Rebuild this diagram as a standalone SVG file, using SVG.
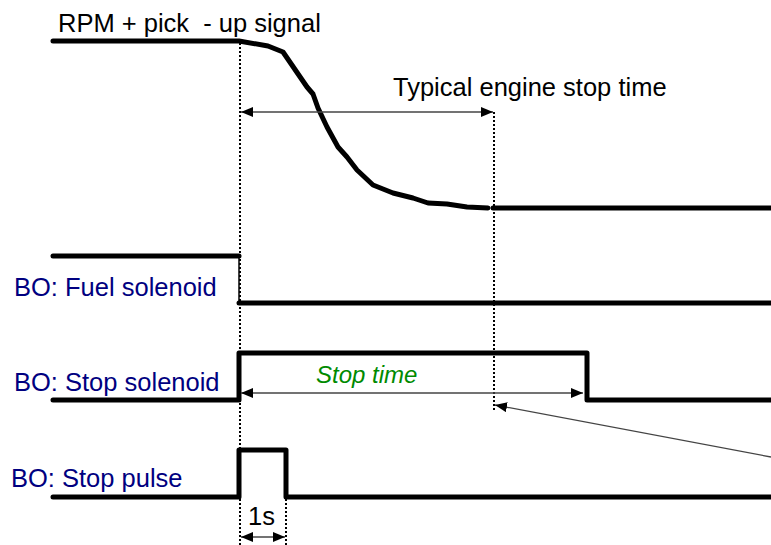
<svg xmlns="http://www.w3.org/2000/svg" width="771" height="545" viewBox="0 0 771 545">
<style>
.sig{fill:none;stroke:#000;stroke-width:5;stroke-linecap:round;stroke-linejoin:round}
.thin{fill:none;stroke:#000;stroke-width:1.5}
.dot{fill:none;stroke:#000;stroke-width:2;stroke-dasharray:2 2}
.arr{fill:none;stroke:#444;stroke-width:1.3}
.lbl{font-family:"Liberation Sans",Arial,sans-serif;font-size:25.5px;fill:#000080}
.blk{font-family:"Liberation Sans",Arial,sans-serif;font-size:25.5px;fill:#000}
.grn{font-family:"Liberation Sans",Arial,sans-serif;font-size:24px;font-style:italic;fill:#008a00}
</style>
<defs>
<marker id="ah" viewBox="0 0 12 10" refX="12" refY="5" markerWidth="12" markerHeight="10" markerUnits="userSpaceOnUse" orient="auto-start-reverse">
<path d="M0,0 L12,5 L0,10 z" fill="#000"/>
</marker>
</defs>
<rect width="771" height="545" fill="#fff"/>
<g id="rpm">
<path class="sig" d="M53,41 L239,41 L268,46 L283,52 L307,87 L313,94 L318,108 L327,127 L338,147 L347,157 L357,170 L373,185 L393,193 L413,198 L428,203 L447,204 L467,207 L488,208"/>
<path class="sig" d="M493,208 L771,208"/>
<text class="blk" x="58" y="32">RPM + pick <tspan dx="7">- up signal</tspan></text>
</g>
<g id="fuel">
<path class="sig" d="M53,256 L239,256"/>
<path class="thin" d="M239,256 L239,303"/>
<path class="sig" d="M239,303 L771,303"/>
<text class="lbl" x="14" y="296">BO: Fuel solenoid</text>
</g>
<g id="stopsol">
<path class="sig" d="M53,400 L239,400 L239,353 L587,353 L587,400 L771,400"/>
<text class="lbl" x="14" y="391">BO: Stop solenoid</text>
</g>
<g id="pulse">
<path class="sig" d="M53,497 L239,497 L239,450 L286,450 L286,497 L771,497"/>
<text class="lbl" x="11" y="487">BO: Stop pulse</text>
</g>
<g id="connectors">
<path class="dot" d="M240,43 L240,545"/>
<path class="dot" d="M494,112 L494,410"/>
<path class="dot" d="M286,499 L286,545"/>
<path class="arr" d="M241,112 L493,112" marker-start="url(#ah)" marker-end="url(#ah)"/>
<path class="arr" d="M241,393 L583,393" marker-start="url(#ah)" marker-end="url(#ah)"/>
<path class="arr" d="M771,457 L495,405" marker-end="url(#ah)"/>
<path class="arr" d="M241,537 L285,537" marker-start="url(#ah)" marker-end="url(#ah)"/>
<text class="blk" x="393" y="96">Typical engine stop time</text>
<text class="grn" x="316" y="383">Stop time</text>
<text class="blk" x="248" y="525">1s</text>
</g>
</svg>
